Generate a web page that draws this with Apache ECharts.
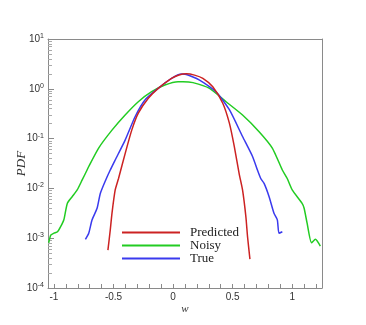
<!DOCTYPE html>
<html><head><meta charset="utf-8">
<script src="https://cdn.jsdelivr.net/npm/echarts@6/dist/echarts.min.js"></script>
<style>html,body{margin:0;padding:0;background:#fff}#c{width:366px;height:325px}</style>
</head><body><div id="c"></div>
<script>
// Predicted
const predX = [-0.547,-0.5275,-0.513,-0.486,-0.458,-0.4025,-0.347,-0.292,-0.208,-0.125,-0.013,0.05,0.111,0.18,0.25,0.333,0.417,0.4725,0.514,0.556,0.583,0.611,0.625,0.645];
const predY = [5.75e-4,1.45e-3,3.16e-3,9.3e-3,0.0158,0.05,0.148,0.324,0.646,1.02,1.62,1.9,2.0,1.88,1.62,1.10,0.513,0.204,0.069,0.019,9.3e-3,2.7e-3,1.07e-3,3.8e-4];
// Noisy
const noisyX = [-1.044,-1.027,-1.0,-0.97,-0.944,-0.917,-0.888,-0.847,-0.805,-0.763,-0.722,-0.708,-0.625,-0.513,-0.4025,-0.292,-0.18,-0.069,0.042,0.083,0.167,0.306,0.445,0.583,0.722,0.833,0.917,0.958,1.0,1.083,1.1,1.125,1.162,1.195,1.236];
const noisyY = [8.1e-4,1.15e-3,1.26e-3,1.35e-3,1.7e-3,2.34e-3,5.0e-3,6.8e-3,9.3e-3,0.0148,0.0234,0.0275,0.0646,0.148,0.298,0.551,0.875,1.19,1.39,1.39,1.33,1.02,0.55,0.298,0.138,0.0646,0.0234,0.0158,9.3e-3,5.0e-3,4.0e-3,2.0e-3,8.1e-4,9.5e-4,6.9e-4];
// True
const trueX = [-0.736,-0.708,-0.68,-0.638,-0.611,-0.569,-0.5275,-0.486,-0.4025,-0.319,-0.236,-0.125,-0.013,0.07,0.1,0.222,0.36,0.4725,0.583,0.667,0.708,0.736,0.764,0.806,0.847,0.875,0.889,0.917];
const trueY = [9.5e-4,1.26e-3,2.34e-3,3.98e-3,7.9e-3,0.0141,0.0234,0.0372,0.0933,0.275,0.596,1.02,1.62,1.98,1.97,1.50,0.875,0.38,0.11,0.0437,0.0234,0.0158,0.0126,6.8e-3,3.16e-3,2.34e-3,1.26e-3,1.35e-3];

const xTickValues = [-1,-0.9,-0.8,-0.7,-0.6,-0.5,-0.4,-0.3,-0.2,-0.1,0,0.1,0.2,0.3,0.4,0.5,0.6,0.7,0.8,0.9,1,1.1,1.2];
const xLabelValues = [-1,-0.5,0,0.5,1];
const yLabelValues = [1e-4,1e-3,1e-2,1e-1,1,10];
const yLabelExp = {"0.0001":"-4","0.001":"-3","0.01":"-2","0.1":"-1","1":"0","10":"1"};
const yMinorTicks = [];
[1e-4,1e-3,1e-2,1e-1,1].forEach(d => { for (let k = 2; k <= 9; k++) yMinorTicks.push(+(d*k).toPrecision(3)); });

const pair = (xs, ys) => xs.map((x, i) => [x, ys[i]]);
const axisGray = '#8a8a8a';
const labelFont = 'Liberation Sans, Arial, sans-serif';

const chart = echarts.init(document.getElementById('c'), null, {renderer: 'canvas'});
chart.setOption({
  animation: false,
  backgroundColor: '#fff',
  grid: {left: 48, top: 39, right: 44, bottom: 37},
  legend: {
    orient: 'vertical', left: 121, top: 226, padding: 0, itemWidth: 58, itemHeight: 13, itemGap: 0,
    itemStyle: {opacity: 0},
    textStyle: {fontFamily: 'Liberation Serif', fontSize: 13, color: '#222', padding: [0,0,0,5]},
    data: ['Predicted', 'Noisy', 'True']
  },
  xAxis: [{
    type: 'value', min: -1.05, max: 1.25, position: 'bottom',
    name: 'w', nameLocation: 'middle', nameGap: 16, nameMoveOverlap: false,
    nameTextStyle: {fontFamily: 'Liberation Serif', fontStyle: 'italic', fontSize: 11, color: '#333'},
    axisLine: {show: true, onZero: false, lineStyle: {color: axisGray, width: 1}},
    axisTick: {show: true, inside: true, length: 4, customValues: xTickValues, lineStyle: {color: axisGray}},
    axisLabel: {customValues: xLabelValues, margin: 4, fontFamily: labelFont, fontSize: 10, color: '#333',
      formatter: v => String(v)},
    splitLine: {show: false}
  }, {
    type: 'value', min: -1.05, max: 1.25, position: 'top',
    axisLine: {show: true, onZero: false, lineStyle: {color: axisGray, width: 1}},
    axisTick: {show: false}, axisLabel: {show: false}, splitLine: {show: false}
  }],
  yAxis: [{
    type: 'log', logBase: 10, min: 1e-4, max: 10, position: 'left',
    name: 'PDF', nameLocation: 'middle', nameGap: 20, nameMoveOverlap: false,
    nameTextStyle: {fontFamily: 'Liberation Serif', fontStyle: 'italic', fontSize: 13, color: '#333'},
    axisLine: {show: true, onZero: false, lineStyle: {color: axisGray, width: 1}},
    axisTick: {show: true, inside: true, length: 6, customValues: yLabelValues, lineStyle: {color: axisGray}},
    axisLabel: {customValues: yLabelValues, margin: 4, fontFamily: labelFont, fontSize: 10, color: '#333',
      formatter: v => '10{s|' + yLabelExp[String(+v.toPrecision(3))] + '}',
      rich: {s: {fontSize: 7, verticalAlign: 'top', padding: [0,0,6,0], fontFamily: labelFont, color: '#333'}}},
    splitLine: {show: false}
  }, {
    type: 'log', logBase: 10, min: 1e-4, max: 10, position: 'left',
    axisLine: {show: false, onZero: false},
    axisTick: {show: true, inside: true, length: 4, customValues: yMinorTicks, lineStyle: {color: '#aaa'}},
    axisLabel: {show: false}, splitLine: {show: false}
  }, {
    type: 'log', logBase: 10, min: 1e-4, max: 10, position: 'right',
    axisLine: {show: true, onZero: false, lineStyle: {color: axisGray, width: 1}},
    axisTick: {show: false}, axisLabel: {show: false}, splitLine: {show: false}
  }],
  series: [
    {name: 'Predicted', type: 'line', data: pair(predX, predY), showSymbol: false, symbol: 'none', smooth: 0.2,
      lineStyle: {color: '#cc2222', width: 1.5}, itemStyle: {color: '#cc2222'}, z: 3},
    {name: 'Noisy', type: 'line', data: pair(noisyX, noisyY), showSymbol: false, symbol: 'none', smooth: 0.2,
      lineStyle: {color: '#22cc22', width: 1.5}, itemStyle: {color: '#22cc22'}, z: 1},
    {name: 'True', type: 'line', data: pair(trueX, trueY), showSymbol: false, symbol: 'none', smooth: 0.2,
      lineStyle: {color: '#3a3aee', width: 1.5}, itemStyle: {color: '#3a3aee'}, z: 2}
  ]
});
</script></body></html>
